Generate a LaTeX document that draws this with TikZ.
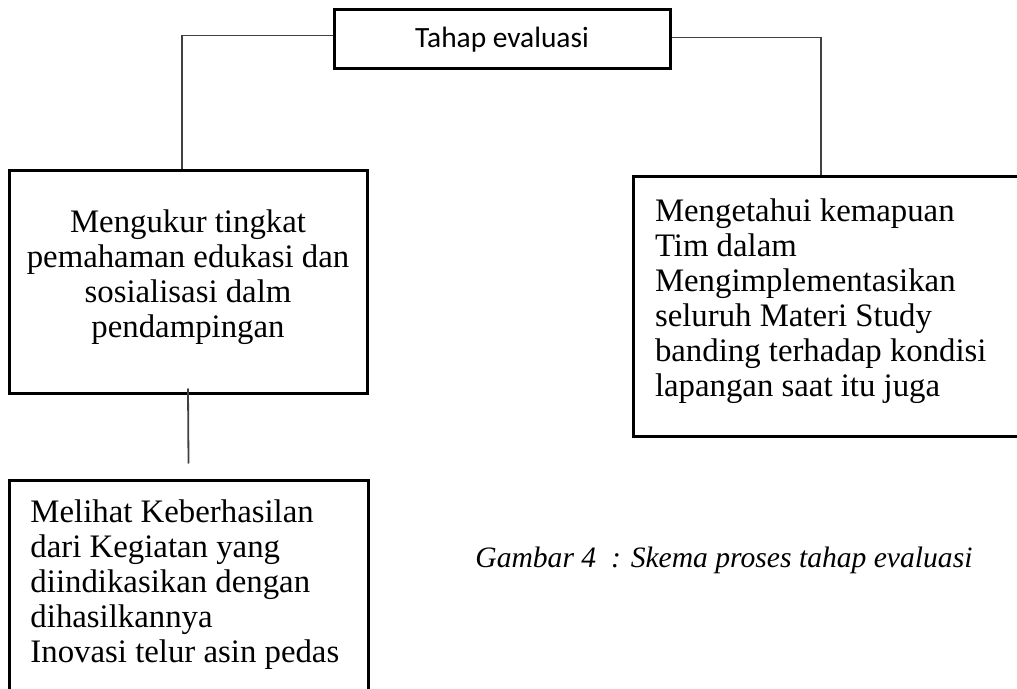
\documentclass[tikz,border=0pt]{standalone}
\usepackage{fontspec}
\setmainfont{Liberation Serif}
\newfontfamily\calibrifont{Carlito}
\newcommand{\bawah}{\rule[-9pt]{0pt}{0pt}}

\begin{document}
\begin{tikzpicture}[x=0.5pt,y=-0.5pt,
                kotak/.style={draw,line width=1.5pt,inner sep=0pt},
                garis/.style={black!75,line width=0.9pt},
                isi/.style={font=\fontsize{16.4}{17.5}\selectfont}]
                \useasboundingbox (0,0) rectangle (1017,689);
                \clip (0,0) rectangle (1017,689);
                \node[kotak,minimum width=168pt,minimum height=29.5pt,font=\calibrifont\fontsize{14.7}{16}\selectfont] (tahap) at (502,39.5) {Tahap evaluasi};
                \node[kotak,isi,minimum width=179pt,minimum height=111.5pt,align=center] (ukur) at (188,282.5) {Mengukur tingkat\\pemahaman edukasi dan\\sosialisasi dalm\\pendampingan\bawah};
                \node[kotak,isi,text width=178pt,inner xsep=11pt,minimum height=130pt,align=flush left] (mampu) at (833,307) {Mengetahui kemapuan\\Tim dalam\\Mengimplementasikan\\seluruh Materi Study\\banding terhadap kondisi\\lapangan saat itu juga\bawah};
                \node[kotak,isi,text width=158pt,inner xsep=10.75pt,minimum height=110pt,align=flush left] (lihat) at (188.5,590) {Melihat Keberhasilan\\dari Kegiatan yang\\diindikasikan dengan\\dihasilkannya\\Inovasi telur asin pedas\bawah};
                \draw[garis] ([yshift=2pt]tahap.west) -| ([xshift=-3pt]ukur.north);
                \draw[garis] ([yshift=1pt]tahap.east) -| ([xshift=-6pt]mampu.north);
                \draw[garis] ([yshift=3.5pt]ukur.south) -- ([yshift=7.5pt]lihat.north);
                \node[anchor=west,inner sep=0pt,font=\itshape\fontsize{14.8}{16}\selectfont] (judul) at (475,560) {Gambar 4\ \ : Skema proses tahap evaluasi};
            \end{tikzpicture}
\end{document}
